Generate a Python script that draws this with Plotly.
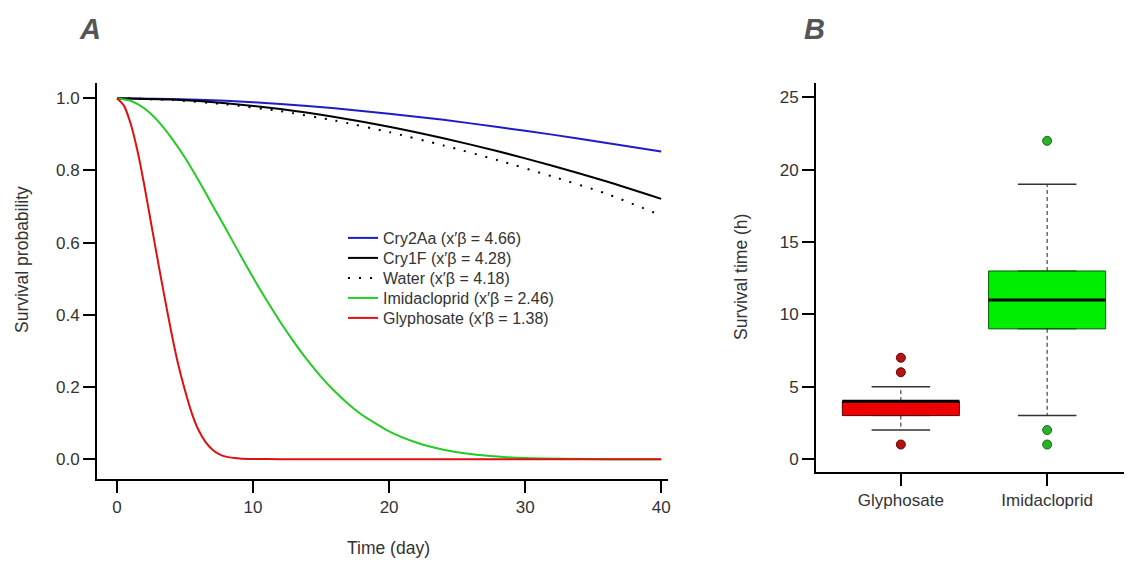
import plotly.graph_objects as go

# ---------------- Panel A data ----------------
t_cry2aa = [0, 4, 8, 12, 16, 20, 24, 28, 32, 36, 40]
s_cry2aa = [1.0, 0.998, 0.993, 0.984, 0.972, 0.957, 0.940, 0.920, 0.899, 0.876, 0.852]

t_cry1f = [0, 4, 8, 12, 16, 20, 24, 28, 32, 36, 40]
s_cry1f = [1.0, 0.996, 0.986, 0.970, 0.948, 0.921, 0.889, 0.853, 0.813, 0.769, 0.721]

t_water = [0, 4, 8, 12, 16, 20, 24, 28, 32, 36, 40]
s_water = [1.0, 0.995, 0.983, 0.964, 0.938, 0.906, 0.869, 0.828, 0.783, 0.735, 0.675]

t_imid = [0, 1, 2, 3, 4, 5, 6, 7, 8, 9, 10, 11, 12, 13, 14, 15, 16, 17, 18, 20, 22, 24, 26, 28, 30, 33, 36, 40]
s_imid = [1.0, 0.993, 0.972, 0.937, 0.890, 0.835, 0.772, 0.705, 0.638, 0.570, 0.503, 0.440, 0.380,
          0.325, 0.274, 0.228, 0.188, 0.153, 0.123, 0.077, 0.046, 0.026, 0.014, 0.007, 0.003, 0.001, 0.0, 0.0]

t_glyph = [0, 0.5, 1, 1.5, 2, 2.5, 3, 3.5, 4, 4.5, 5, 5.5, 6, 6.5, 7, 7.5, 8, 9, 10, 12, 20, 30, 40]
s_glyph = [1.0, 0.980, 0.930, 0.855, 0.760, 0.655, 0.550, 0.448, 0.350, 0.262, 0.190, 0.127, 0.080,
           0.048, 0.027, 0.014, 0.007, 0.002, 0.0005, 0.0, 0.0, 0.0, 0.0]

legend_names = ["Cry2Aa (x′β = 4.66)", "Cry1F (x′β = 4.28)", "Water (x′β = 4.18)",
                "Imidacloprid (x′β = 2.46)", "Glyphosate (x′β = 1.38)"]

x_ticks_a = [0, 10, 20, 30, 40]
y_ticks_a = [0.0, 0.2, 0.4, 0.6, 0.8, 1.0]
y_ticktext_a = ["0.0", "0.2", "0.4", "0.6", "0.8", "1.0"]

# ---------------- Panel B data ----------------
groups = ["Glyphosate", "Imidacloprid"]
group_pos = [1, 2]
q1 = [3, 9]
median = [4, 11]
q3 = [4, 13]
whisker_low = [2, 3]
whisker_high = [5, 19]
outliers = [[7, 6, 1], [22, 2, 1]]
y_ticks_b = [0, 5, 10, 15, 20, 25]

# ---------------- styles ----------------
FONT = "Liberation Sans, Arial, sans-serif"
TXT = "#333333"
box_fill = ["#ee0000", "#00ee00"]
box_edge = ["#5a0000", "#005a00"]
out_fill = ["#b01515", "#2ab02a"]
out_edge = ["#700000", "#107010"]
BOX_W = 0.8
CAP_W = 0.4

# the page body adds an 8px margin; size the figure so it fits the 1132x563 window
OFF = 8
W, H = 1132 - OFF, 563 - OFF


def px(x):  # screen x pixel -> paper fraction
    return (x - OFF) / W


def py(y):  # screen y pixel -> paper fraction (from bottom)
    return (H - (y - OFF)) / H


fig = go.Figure()

line_styles = [
    dict(color="#1c1cc8", width=2),
    dict(color="#000000", width=2),
    dict(color="#000000", width=2, dash="2px,9px"),
    dict(color="#22cc22", width=2),
    dict(color="#dd1111", width=2),
]
series = [(t_cry2aa, s_cry2aa), (t_cry1f, s_cry1f), (t_water, s_water), (t_imid, s_imid), (t_glyph, s_glyph)]
legend_ids = ["legend", "legend2", "legend3", "legend4", "legend5"]
for (tx, sy), ln, name, lid in zip(series, line_styles, legend_names, legend_ids):
    fig.add_trace(go.Scatter(x=tx, y=sy, mode="lines", name=name,
                             line=dict(shape="spline", smoothing=0.6, **ln),
                             xaxis="x", yaxis="y", showlegend=True, legend=lid))

# Panel B boxes
for i, g in enumerate(groups):
    p = group_pos[i]
    fig.add_trace(go.Box(x=[p], q1=[q1[i]], median=[median[i]], q3=[q3[i]],
                         lowerfence=[q1[i]], upperfence=[q3[i]], width=BOX_W,
                         fillcolor=box_fill[i], line=dict(color=box_edge[i], width=1),
                         boxpoints=False, xaxis="x2", yaxis="y2", showlegend=False, name=g,
                         hoverinfo="skip"))
    fig.add_trace(go.Scatter(x=[p - BOX_W / 2, p + BOX_W / 2], y=[median[i], median[i]], mode="lines",
                             line=dict(color="#000000", width=3), xaxis="x2", yaxis="y2", showlegend=False))
    fig.add_trace(go.Scatter(x=[p, p, None, p, p], y=[q3[i], whisker_high[i], None, q1[i], whisker_low[i]],
                             mode="lines", line=dict(color="#222222", width=1, dash="4px,3px"),
                             xaxis="x2", yaxis="y2", showlegend=False))
    fig.add_trace(go.Scatter(x=[p - CAP_W / 2, p + CAP_W / 2, None, p - CAP_W / 2, p + CAP_W / 2],
                             y=[whisker_high[i], whisker_high[i], None, whisker_low[i], whisker_low[i]],
                             mode="lines", line=dict(color="#333333", width=1.5),
                             xaxis="x2", yaxis="y2", showlegend=False))
    fig.add_trace(go.Scatter(x=[p] * len(outliers[i]), y=outliers[i], mode="markers",
                             marker=dict(size=9, color=out_fill[i], line=dict(color=out_edge[i], width=1)),
                             xaxis="x2", yaxis="y2", showlegend=False))

axis_common = dict(showline=True, linecolor="#000000", linewidth=2, ticks="outside", ticklen=12,
                   tickwidth=2, tickcolor="#000000", showgrid=False, zeroline=False, automargin=False,
                   tickfont=dict(family=FONT, size=17, color=TXT))

legend_centers = [238, 258, 278, 298, 318]
legend_layouts = {}
for lid, yc in zip(legend_ids, legend_centers):
    legend_layouts[lid] = dict(x=px(343), y=py(yc), xanchor="left", yanchor="middle",
                               bgcolor="rgba(0,0,0,0)", font=dict(family=FONT, size=16, color=TXT),
                               itemwidth=30, borderwidth=0)

title_font = dict(family=FONT, size=17.5, color=TXT)
panel_font = dict(family=FONT, size=29, color="#555555")

fig.update_layout(
    width=W, height=H,
    margin=dict(l=0, r=0, t=0, b=0, autoexpand=False),
    paper_bgcolor="white", plot_bgcolor="white",
    font=dict(family=FONT, color=TXT),
    xaxis=dict(domain=[px(97), px(668)], range=[-1.47, 40.5], tickvals=x_ticks_a, anchor="y", **axis_common),
    yaxis=dict(domain=[py(479), py(83)], range=[-0.055, 1.042], tickvals=y_ticks_a,
               ticktext=y_ticktext_a, anchor="x", **axis_common),
    xaxis2=dict(domain=[px(816), 1.0], range=[0.42, 2.58], tickvals=group_pos, ticktext=groups, anchor="y2",
                **axis_common),
    yaxis2=dict(domain=[py(472), py(83)], range=[-0.9, 26.0], tickvals=y_ticks_b, anchor="x2",
                **axis_common),
    annotations=[
        dict(text="Time (day)", x=px(388), y=py(548), xref="paper", yref="paper", showarrow=False,
             font=title_font, xanchor="center", yanchor="middle"),
        dict(text="Survival probability", x=px(22), y=py(260), xref="paper", yref="paper",
             showarrow=False, textangle=-90, font=title_font, xanchor="center", yanchor="middle"),
        dict(text="Survival time (h)", x=px(741), y=py(277), xref="paper", yref="paper",
             showarrow=False, textangle=-90, font=title_font, xanchor="center", yanchor="middle"),
        dict(text="<b><i>A</i></b>", x=px(90), y=py(29), xref="paper", yref="paper",
             showarrow=False, font=panel_font, xanchor="center", yanchor="middle"),
        dict(text="<b><i>B</i></b>", x=px(814), y=py(29), xref="paper", yref="paper",
             showarrow=False, font=panel_font, xanchor="center", yanchor="middle"),
    ],
    **legend_layouts,
)

fig.write_html("out.html")
